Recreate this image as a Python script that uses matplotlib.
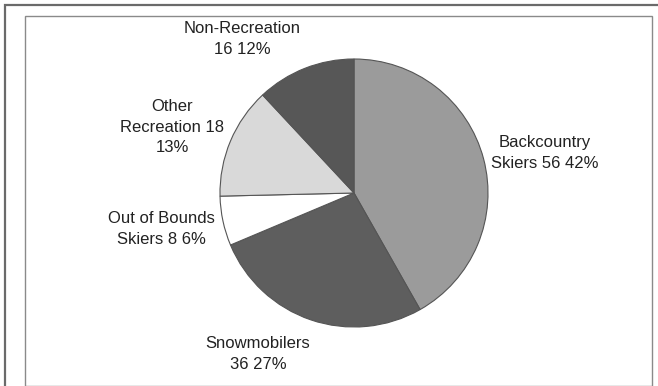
import matplotlib
matplotlib.use("Agg")
import matplotlib.pyplot as plt
from matplotlib.patches import Rectangle

# data
categories = ["Backcountry Skiers", "Snowmobilers", "Out of Bounds Skiers", "Other Recreation", "Non-Recreation"]
counts = [56, 36, 8, 18, 16]
percents = [42, 27, 6, 13, 12]
colors = ["#9b9b9b", "#5e5e5e", "#ffffff", "#d9d9d9", "#575757"]

# label text as it appears on the picture
label_texts = [
    "Backcountry\nSkiers 56 42%",
    "Snowmobilers\n36 27%",
    "Out of Bounds\nSkiers 8 6%",
    "Other\nRecreation 18\n13%",
    "Non-Recreation\n16 12%",
]
# label centres in pixels (x from left, y from top)
label_pos = [(545, 153), (258, 354), (161, 229), (172, 127), (242, 39)]

plt.rcParams['font.family'] = ['Liberation Sans', 'DejaVu Sans']

W, H = 658, 386
fig = plt.figure(figsize=(W / 100, H / 100), dpi=100)
ax = fig.add_axes([0, 0, 1, 1])

cx, cy, r = 354, 193, 134

ax.pie(counts, colors=colors, startangle=90, counterclock=False,
       radius=1.0, center=(0, 0), frame=False,
       wedgeprops=dict(edgecolor="#555555", linewidth=0.8))
ax.set_xlim(-cx / r, (W - cx) / r)
ax.set_ylim(-(H - cy) / r, cy / r)
ax.set_aspect("auto")
ax.axis("off")

for txt, (px, py) in zip(label_texts, label_pos):
    fig.text(px / W, 1 - py / H, txt, ha="center", va="center",
             fontsize=12, color="#222222", linespacing=1.45)

# outer and inner frame
fig.patches.append(Rectangle((5 / W, -0.05), (W + 10) / W, 1 - 5 / H + 0.05,
                             transform=fig.transFigure, fill=False,
                             edgecolor="#6a6a6a", linewidth=1.6))
fig.patches.append(Rectangle((25 / W, 0.5 / H), (652 - 25) / W, 1 - 16.5 / H,
                             transform=fig.transFigure, fill=False,
                             edgecolor="#8a8a8a", linewidth=1.0))

fig.savefig("out.png", dpi=100, facecolor="white")
